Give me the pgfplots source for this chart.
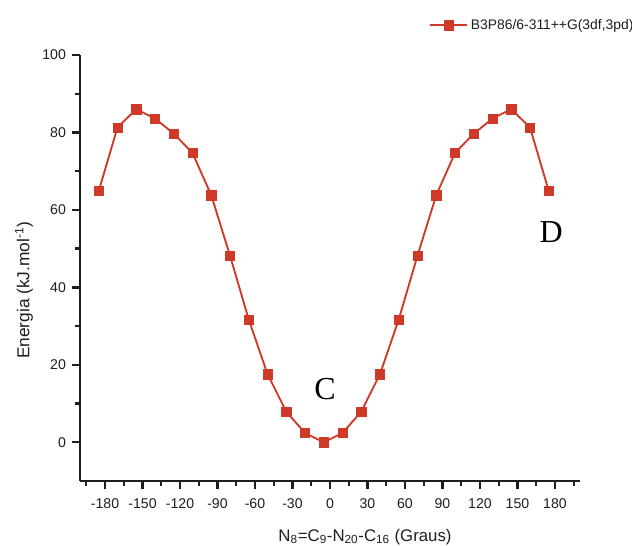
\documentclass[border=0pt]{standalone}
\usepackage{fontspec}
\setmainfont{Liberation Sans}
\newfontfamily\serifc{Liberation Serif}
\usepackage{pgfplots}
\pgfplotsset{compat=1.18}
\definecolor{cred}{RGB}{207,57,40}
\definecolor{axgray}{RGB}{30,30,30}
\begin{document}
\begin{tikzpicture}[x=0.75pt,y=0.75pt]
\path[use as bounding box] (-80,-65) rectangle (552,481);
\begin{axis}[
  scale only axis,
  width=375pt, height=319.5pt,
  xmin=-200, xmax=200, ymin=-10, ymax=100,
  axis x line*=bottom, axis y line*=left,
  axis line style={line width=2pt, draw=axgray, -},
  tick style={line width=1.8pt, draw=axgray},
  major tick length=6pt, minor tick length=3.75pt,
  tick align=outside, tick pos=left,
  xtick={-180,-150,...,180},
  minor xtick={-195,-165,...,195},
  ytick={0,20,...,100},
  minor ytick={10,30,...,90},
  /pgf/number format/assume math mode=true,
  ticklabel style={font=\fontsize{10.6}{12}\selectfont, text=axgray},
  xticklabel style={yshift=-4pt},
  yticklabel style={xshift=-1pt},
  xlabel={N\textsubscript{8}=C\textsubscript{9}-N\textsubscript{20}-C\textsubscript{16} (Graus)},
  xlabel style={at={(axis description cs:0.57,-0.131)}, anchor=center, font=\fontsize{12.6}{14}\selectfont, text=axgray},
  ylabel={Energia (kJ.mol\textsuperscript{-1})},
  ylabel style={at={(axis description cs:-0.112,0.448)}, anchor=center, font=\fontsize{13}{15}\selectfont, text=axgray},
  legend style={at={(axis description cs:0.69,1.07)}, anchor=west, draw=none, fill=none,
    font=\fontsize{10.4}{12}\selectfont, text=axgray},
  legend cell align=left,
  legend image code/.code={\draw[#1, mark repeat=2, mark phase=2] plot coordinates {(0cm,0cm) (0.49cm,0cm) (0.98cm,0cm)};},
  clip=false,
]
\addplot[color=cred, line width=1.4pt, mark=square*, mark size=3.5pt, mark options={fill=cred, draw=cred, line width=0.3pt}]
coordinates {
(-185,64.9) (-170,81.3) (-155,86.0) (-140,83.6) (-125,79.7) (-110,74.7)
(-95,63.8) (-80,48.2) (-65,31.7) (-50,17.6) (-35,7.9) (-20,2.4) (-5,0.0)
(10,2.4) (25,7.9) (40,17.6) (55,31.7) (70,48.2) (85,63.8) (100,74.7)
(115,79.7) (130,83.6) (145,86.0) (160,81.3) (175,64.9)
};
\addlegendentry{B3P86/6-311++G(3df,3pd)}
\node[font=\serifc\fontsize{24}{26}\selectfont] at (axis cs:-4,13.8) {C};
\node[font=\serifc\fontsize{24}{26}\selectfont] at (axis cs:177,54.2) {D};
\end{axis}
\end{tikzpicture}
\end{document}
